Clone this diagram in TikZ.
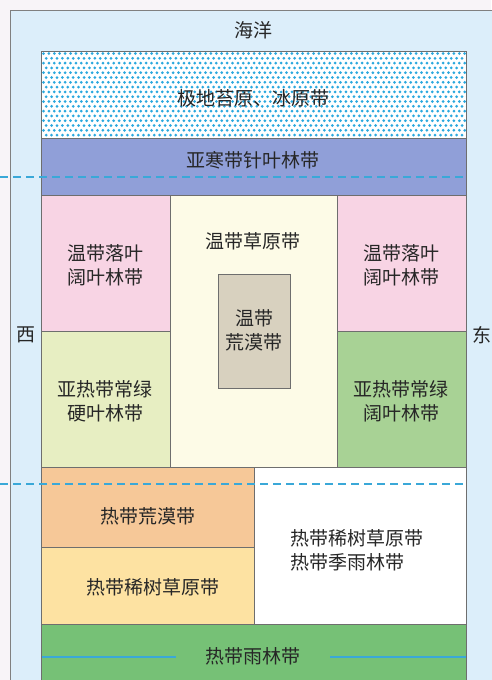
\documentclass[tikz,border=0pt]{standalone}
\usepackage{fontspec}
\setmainfont{Noto Sans CJK SC}
\usepackage{tikz}
\definecolor{paper}{HTML}{F8F4F8}
\definecolor{sea}{HTML}{DCEEFA}
\definecolor{dotblue}{HTML}{2AA8DE}
\definecolor{taiga}{HTML}{909FD8}
\definecolor{broadleaf}{HTML}{F8D4E4}
\definecolor{sclero}{HTML}{E7EEC2}
\definecolor{steppe}{HTML}{FDFBE7}
\definecolor{tdesert}{HTML}{D8D1BF}
\definecolor{evergreen}{HTML}{A8D295}
\definecolor{hdesert}{HTML}{F6C898}
\definecolor{savanna}{HTML}{FDE2A2}
\definecolor{rainf}{HTML}{76C176}
\definecolor{zoneline}{HTML}{6E6E6E}
\definecolor{lineblue}{HTML}{3AA8D8}
\definecolor{txt}{HTML}{262626}
\tikzset{zone/.style={draw=zoneline,line width=0.9pt},
  lbl/.style={font=\fontsize{19}{24}\selectfont,text=txt,align=center,inner sep=0pt},
  belt/.style={lineblue,line width=1.1pt,dash pattern=on 8pt off 5pt}}

\begin{document}
\begin{tikzpicture}[x=1pt,y=-1pt]
\useasboundingbox (0,0) rectangle (491,680);
\fill[paper] (0,0) rectangle (491,680);
\draw[gray,line width=1pt,fill=sea] (10,10) rectangle (500,690);
% polar zone, dotted
\fill[white] (41,51) rectangle (466,138);
\begin{scope}
\clip (41,51) rectangle (466,138);
\foreach \r in {0,...,18}{%
  \pgfmathsetmacro{\sx}{mod(\r,2)*2.7}
  \foreach \c in {0,...,79}{%
    \fill[dotblue] ({43.5+\sx+5.4*\c},{53.5+4.8*\r}) circle (1.5pt);}}
\end{scope}
\draw[zone] (41,51) rectangle (466,138);
\draw[zone,fill=taiga] (41,138) rectangle (466,195);
% middle latitudes
\draw[zone,fill=broadleaf] (41,195) rectangle (170,331);
\draw[zone,fill=sclero] (41,331) rectangle (170,467);
\draw[zone,fill=steppe] (170,195) rectangle (337,467);
\draw[zone,fill=broadleaf] (337,195) rectangle (466,331);
\draw[zone,fill=evergreen] (337,331) rectangle (466,467);
\draw[zone,fill=tdesert] (218,274) rectangle (290,388);
% low latitudes
\draw[zone,fill=hdesert] (41,467) rectangle (254,547);
\draw[zone,fill=savanna] (41,547) rectangle (254,624);
\draw[zone,fill=white] (254,467) rectangle (466,624);
\draw[zone,fill=rainf] (41,624) rectangle (466,700);
\draw[lineblue,line width=1.1pt] (42,657)--(176,657);
\draw[lineblue,line width=1.1pt] (330,657)--(466,657);
% tropics
\draw[belt] (0,177)--(466,177);
\draw[belt] (0,484)--(466,484);
% labels
\node[lbl] (ocean) at (253,30) {海洋};
\node[lbl] (polar) at (253,98) {极地苔原、冰原带};
\node[lbl] (taigaL) at (253,160) {亚寒带针叶林带};
\node[lbl] (steppeL) at (253,241) {温带草原带};
\node[lbl] (deserttL) at (254,330) {温带\\荒漠带};
\node[lbl] (broadW) at (105,265) {温带落叶\\阔叶林带};
\node[lbl] (broadE) at (401,265) {温带落叶\\阔叶林带};
\node[lbl] (scleroL) at (105,401) {亚热带常绿\\硬叶林带};
\node[lbl] (everL) at (401,401) {亚热带常绿\\阔叶林带};
\node[lbl] (hdesertL) at (148,516) {热带荒漠带};
\node[lbl] (savannaL) at (153,587) {热带稀树草原带};
\node[lbl,anchor=west,align=left] (monsoonL) at (290,550) {热带稀树草原带\\热带季雨林带};
\node[lbl] (rainfL) at (253,656) {热带雨林带};
\node[lbl] (west) at (26,335) {西};
\node[lbl] (east) at (482,335) {东};
\end{tikzpicture}
\end{document}
